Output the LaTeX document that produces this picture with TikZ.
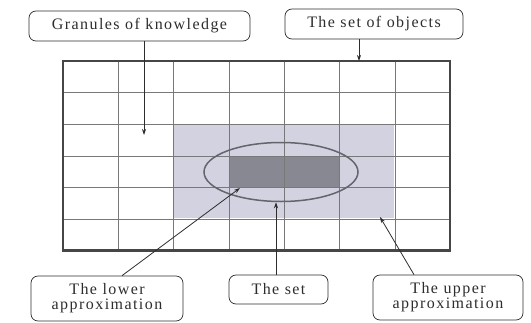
\documentclass[tikz,border=0pt]{standalone}
\usepackage{fontspec}
\setmainfont{Liberation Serif}
\newfontfamily\boxfont[LetterSpace=9]{Liberation Serif}
\definecolor{inkgray}{RGB}{45,45,45}
\definecolor{gridgray}{RGB}{120,120,120}
\definecolor{framegray}{RGB}{70,70,70}
\definecolor{upperfill}{RGB}{210,210,224}
\definecolor{lowerfill}{RGB}{136,136,146}
\definecolor{ellipsegray}{RGB}{100,100,108}
\usepackage{tikz}
\usetikzlibrary{positioning, arrows.meta, shapes.geometric}

\begin{document}
\begin{tikzpicture}[x=1pt, y=-1pt,
    labelbox/.style={draw=inkgray, text=inkgray, rounded corners=7pt, line width=0.7pt,
      font=\boxfont\fontsize{16}{15}\selectfont, align=center, inner sep=0pt},
    pointer/.style={draw=inkgray, line width=0.8pt, -{Stealth[length=6pt, width=4pt]}},
  ]
    \useasboundingbox (0,0) rectangle (531,322);
    % approximations
    \fill[upperfill] (173.7,124.2) rectangle (394,218.2);
    \fill[lowerfill] (228.9,155.8) rectangle (339,186.6);
    % granules
    \foreach \i in {1,...,6}
      \draw[gridgray, line width=0.6pt] ({63+55.3*\i},61) -- ++(0,189.6);
    \foreach \j in {1,...,5}
      \draw[gridgray, line width=0.6pt] (63,{61+31.6*\j}) -- ++(387,0);
    \draw[framegray, line width=2.5pt] (63,61) rectangle (450,250.6);
    % the set
    \node[ellipse, draw=ellipsegray, line width=1.5pt, inner sep=0pt,
      minimum width=154pt, minimum height=59pt] (set) at (281,172) {};

    \node[labelbox, minimum width=221pt, minimum height=30pt] (granules) at (139.5,26) {Granules of knowledge};
    \node[labelbox, minimum width=178pt, minimum height=30pt] (objects) at (374,24) {The set of objects};
    \node[labelbox, minimum width=152pt, minimum height=45pt] (lower) at (107,298.5) {The lower\\approximation};
    \node[labelbox, minimum width=99pt, minimum height=29pt] (setbox) at (278.5,289.5) {The set};
    \node[labelbox, minimum width=150pt, minimum height=45pt] (upper) at (448,297.5) {The upper\\approximation};

    \coordinate (cellmark) at (144,135);
    \coordinate (framemark) at (359,61);
    \coordinate (lowermark) at (240,188);
    \coordinate (uppermark) at (380,217);
    \draw[pointer] (granules.south -| cellmark) -- (cellmark);
    \draw[pointer] (objects.south -| framemark) -- (framemark);
    \draw[pointer] ([xshift=15pt]lower.north) -- (lowermark);
    \draw[pointer] ([xshift=-2.5pt]setbox.north) -- ([xshift=-2.5pt]setbox.north |- set.south);
    \draw[pointer] ([xshift=-34pt]upper.north) -- (uppermark);
\end{tikzpicture}
\end{document}
